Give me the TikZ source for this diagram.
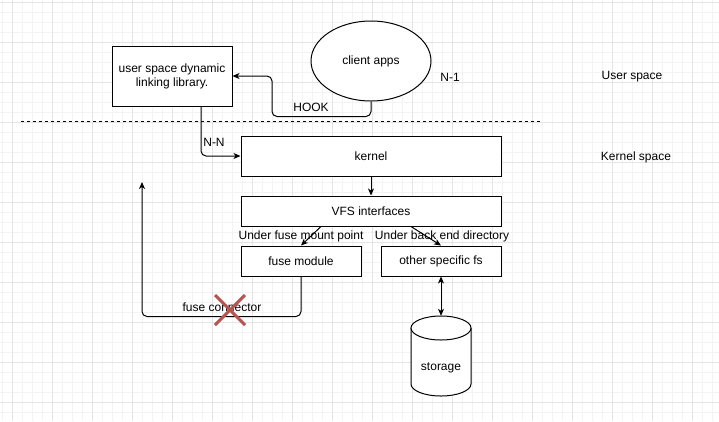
\documentclass[tikz,border=0pt]{standalone}
\usepackage{fontspec}
\setmainfont{Liberation Sans}
\usetikzlibrary{shapes.geometric,arrows.meta,calc}
\definecolor{gridminor}{HTML}{F3F3F3}
\definecolor{gridmajor}{HTML}{E4E4E4}
\definecolor{xred}{HTML}{B85450}
\begin{document}
\begin{tikzpicture}[x=1pt,y=-1pt,
  font=\fontsize{12}{14}\selectfont,
  box/.style={draw, line width=1pt, fill=white, inner sep=0pt, align=center},
  lbl/.style={inner sep=0pt, align=center},
  arr/.style={line width=1pt, rounded corners=5pt, -{Stealth[length=7pt,width=6pt,inset=2pt]}},
  minorline/.style={draw=gridminor, line width=0.8pt},
  majorline/.style={draw=gridmajor, line width=0.8pt}
]
\useasboundingbox (0,0) rectangle (719,421);
\fill[white] (0,0) rectangle (719,421);
% grid
\foreach \x in {2,12,...,712} \draw[minorline] (\x,0) -- (\x,421);
\foreach \y in {2,12,...,420} \draw[minorline] (0,\y) -- (719,\y);
\foreach \x in {12,52,...,712} \draw[majorline] (\x,0) -- (\x,421);
\foreach \y in {2,42,...,420} \draw[majorline] (0,\y) -- (719,\y);

% dashed separator
\coordinate (dl1) at (21,121);
\coordinate (dl2) at (541,121);
\draw[line width=1pt, dash pattern=on 3pt off 3pt] (dl1) -- (dl2);

% nodes
\node[box, minimum width=120pt, minimum height=60pt] (lib) at (172,76) {user space dynamic\\linking library.};
\node[box, ellipse, minimum width=120pt, minimum height=80pt] (client) at (371,61) {client apps};
\node[lbl] (n1) at (450,77) {N-1};
\node[lbl] (us) at (632,77) {User space};
\node[lbl] (ks) at (636,157) {Kernel space};
\node[box, minimum width=260pt, minimum height=40pt] (kernel) at (371,156) {kernel};
\node[box, minimum width=260pt, minimum height=30pt] (vfs) at (371,211) {VFS interfaces};
\node[box, minimum width=120pt, minimum height=30pt] (fuse) at (301,261) {fuse module};
\node[box, minimum width=120pt, minimum height=30pt] (other) at (441,261) {other specific fs};

% storage cylinder
\draw[line width=1pt, fill=white] (411,328) -- (411,384)
  .. controls (411,390.63) and (424.43,396) .. (441,396)
  .. controls (457.57,396) and (471,390.63) .. (471,384) -- (471,328);
\draw[line width=1pt, fill=white] (441,328) ellipse [x radius=30, y radius=12];
\node[inner sep=0pt, minimum width=60pt, minimum height=80pt] (storage) at (441,356) {};
\node[lbl] (storagelbl) at (441,368) {storage};

% connectors
\draw[arr] (client.south) -- ++(0,15) -- ++(-99,0) |- (lib.east);
\node[lbl] (hook) at (311,107) {HOOK};

\draw[arr] ([xshift=29pt]lib.south) |- (kernel.west);
\node[lbl] (nn) at (214,142) {N-N};

\draw[arr] (kernel.south) -- (vfs.north);
\draw[arr, rounded corners=0pt] ([xshift=-50pt]vfs.south) -- (fuse.north);
\draw[arr, rounded corners=0pt] ([xshift=40pt]vfs.south) -- (other.north);
\node[lbl] (ufm) at (301,236) {Under fuse mount point};
\node[lbl] (ubd) at (442,236) {Under back end directory};

\draw[line width=1pt, {Stealth[length=7pt,width=6pt,inset=2pt]}-{Stealth[length=7pt,width=6pt,inset=2pt]}] (other.south) -- (storage.north);

\coordinate (fcend) at (142,182);
\draw[arr] (fuse.south) -- ++(0,40) -| (fcend);
\node[lbl] (fc) at (222,307) {fuse connector};

% red cross
\coordinate (xc) at (230,310);
\draw[xred, line width=3pt] ($(xc)+(-15,-15)$) -- ($(xc)+(15,15)$);
\draw[xred, line width=3pt] ($(xc)+(-15,15)$) -- ($(xc)+(15,-15)$);
\end{tikzpicture}
\end{document}
